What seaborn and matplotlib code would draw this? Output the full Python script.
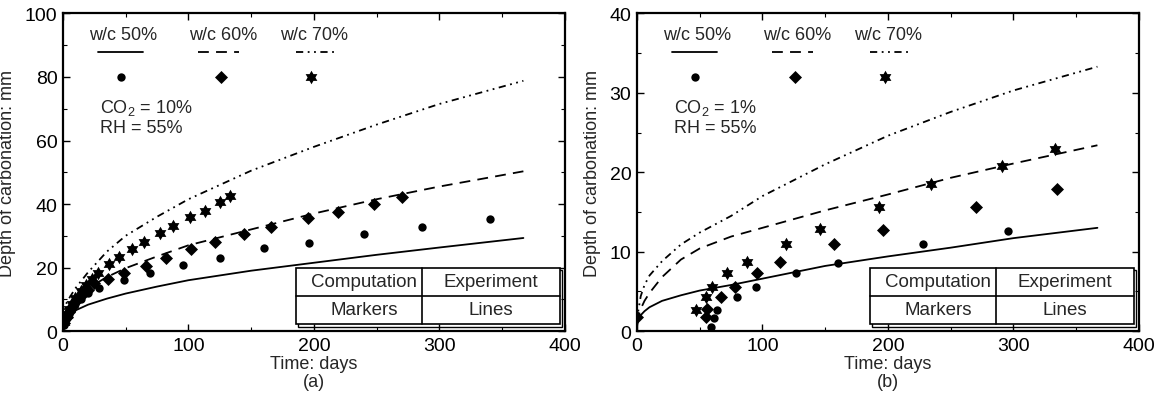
import numpy as np
import seaborn as sns
import matplotlib.pyplot as plt
from matplotlib.ticker import MultipleLocator
from matplotlib.path import Path
from matplotlib.patches import Rectangle
import pandas as pd

# ---- panel (a): CO2 = 10 %, RH = 55 % ----
a_line_t = [0, 1, 3, 6, 10, 20, 35, 50, 75, 100, 150, 200, 250, 300, 367]
a_line_50 = [1.5, 3.2, 4.5, 5.5, 6.5, 8.3, 10.2, 11.8, 14.0, 16.0, 19.0, 21.5, 24.0, 26.3, 29.3]
a_line_60 = [2.0, 4.0, 6.0, 8.0, 10.0, 13.5, 17.0, 19.8, 23.5, 27.0, 32.0, 37.0, 41.5, 45.5, 50.3]
a_line_70 = [3.0, 6.0, 9.0, 11.0, 13.5, 18.5, 25.0, 30.0, 36.0, 41.5, 50.5, 58.0, 65.0, 71.5, 78.8]

a_t_50 = [1, 2, 3, 5, 7, 10, 14, 20, 29, 49, 69, 96, 125, 160, 196, 240, 286, 340]
a_v_50 = [2.0, 3.0, 4.0, 5.5, 7.0, 8.5, 10.0, 12.0, 13.6, 16.2, 18.2, 20.9, 23.0, 26.0, 27.8, 30.6, 32.7, 35.3]
a_t_60 = [1, 3, 5, 7, 10, 14, 20, 25, 36, 49, 66, 82, 102, 121, 144, 166, 195, 219, 248, 270]
a_v_60 = [2.5, 4.5, 6.0, 7.5, 9.0, 11.0, 13.0, 15.0, 16.5, 18.2, 20.6, 23.0, 25.8, 28.0, 30.6, 32.7, 35.5, 37.6, 40.0, 42.2]
a_t_70 = [1, 3, 5, 7, 10, 14, 18, 23, 28, 37, 45, 55, 65, 77, 88, 101, 113, 125, 133]
a_v_70 = [3.0, 5.0, 7.0, 8.5, 10.5, 12.5, 14.5, 16.5, 18.2, 21.1, 23.2, 25.8, 28.0, 30.9, 33.0, 35.8, 37.8, 40.5, 42.5]

# ---- panel (b): CO2 = 1 %, RH = 55 % ----
b_line_t = [0, 1, 3, 6, 10, 20, 35, 50, 75, 100, 150, 200, 250, 300, 367]
b_line_50 = [0.6, 1.3, 2.0, 2.5, 3.0, 3.8, 4.5, 5.1, 5.8, 6.6, 8.2, 9.4, 10.5, 11.7, 13.0]
b_line_60 = [1.0, 1.8, 2.8, 3.8, 4.8, 6.8, 9.0, 10.4, 11.9, 13.0, 15.2, 17.2, 19.3, 21.1, 23.4]
b_line_70 = [1.0, 2.5, 4.4, 5.8, 7.0, 8.8, 10.9, 12.4, 14.5, 17.0, 21.0, 24.6, 27.6, 30.3, 33.3]

b_t_50 = [59, 61, 64, 80, 95, 127, 160, 228, 296]
b_v_50 = [0.5, 1.6, 2.7, 4.3, 5.6, 7.3, 8.6, 10.9, 12.6]
b_t_60 = [0, 55, 56, 67, 78, 96, 114, 157, 196, 270, 335]
b_v_60 = [1.8, 1.8, 2.8, 4.3, 5.6, 7.3, 8.7, 10.9, 12.7, 15.6, 17.9]
b_t_70 = [47, 55, 60, 72, 88, 119, 146, 193, 234, 291, 333]
b_v_70 = [2.7, 4.3, 5.6, 7.3, 8.7, 11.0, 12.8, 15.6, 18.5, 20.8, 22.9]

series_names = ["w/c 50%", "w/c 60%", "w/c 70%"]
table_text = [["Computation", "Experiment"], ["Markers", "Lines"]]

sns.set_theme(style="ticks")
plt.rcParams['font.family'] = ['Liberation Sans', 'DejaVu Sans']
plt.rcParams['mathtext.fontset'] = 'custom'
plt.rcParams['mathtext.rm'] = 'Liberation Sans'
plt.rcParams['mathtext.it'] = 'Liberation Sans'

FS = 13

# six-pointed star (two overlapping triangles)
ang = np.deg2rad(90 + 30 * np.arange(12))
rad = np.where(np.arange(12) % 2 == 0, 1.0, 1 / np.sqrt(3))
star_verts = np.column_stack([rad * np.cos(ang), rad * np.sin(ang)])
star_verts = np.vstack([star_verts, star_verts[:1]])
hexagram = Path(star_verts, closed=True)

line_styles = ["-", (0, (6, 4)), (0, (4, 2.5, 1, 2.5, 1, 2.5))]
markers = ["o", "D", hexagram]
msizes = [36, 44, 95]


def draw_panel(ax, line_t, lines, pts, ymax, ystep, co2, tag):
    for v, ls in zip(lines, line_styles):
        df = pd.DataFrame({"t": line_t, "v": v})
        sns.lineplot(data=df, x="t", y="v", ax=ax, color="black", lw=1.3,
                     linestyle=ls, sort=False, estimator=None)
    for (t, v), mk, s in zip(pts, markers, msizes):
        df = pd.DataFrame({"t": t, "v": v})
        sns.scatterplot(data=df, x="t", y="v", ax=ax, color="black", marker=mk,
                        s=s, linewidth=0, zorder=3)

    ax.set_xlim(0, 400)
    ax.set_ylim(0, ymax)
    ax.xaxis.set_major_locator(MultipleLocator(100))
    ax.xaxis.set_minor_locator(MultipleLocator(50))
    ax.yaxis.set_major_locator(MultipleLocator(ystep))
    ax.yaxis.set_minor_locator(MultipleLocator(ystep / 2))
    ax.tick_params(which="both", direction="in", top=True, right=True,
                   labelsize=FS + 1, pad=4, colors="black")
    ax.tick_params(which="major", length=5, width=1)
    ax.tick_params(which="minor", length=3, width=0.8)
    for sp in ax.spines.values():
        sp.set_linewidth(1.6)
        sp.set_color("black")
    ax.set_xlabel("Time: days\n" + tag, fontsize=FS, linespacing=1.05, labelpad=1)
    ax.set_ylabel("Depth of carbonation: mm", fontsize=FS, labelpad=6)

    # key drawn inside the axes
    tx = [0.12, 0.32, 0.50]
    seg = [(0.07, 0.16), (0.27, 0.35), (0.465, 0.545)]
    for name, x, (x0, x1), ls, mk, s in zip(series_names, tx, seg, line_styles, markers, msizes):
        ax.text(x, 0.935, name, transform=ax.transAxes, ha="center", va="center", fontsize=FS)
        ax.plot([x0, x1], [0.878, 0.878], transform=ax.transAxes, color="black",
                lw=1.3, linestyle=ls)
        ax.scatter([x - 0.005], [0.80], transform=ax.transAxes, color="black",
                   marker=mk, s=s, linewidth=0)
    ax.text(0.073, 0.675, "CO$_2$ = " + co2 + "\nRH = 55%", transform=ax.transAxes,
            ha="left", va="center", fontsize=FS, linespacing=1.2)

    # small two-by-two table in the lower right
    x0, x1, xm = 0.465, 0.99, 0.715
    y0, y1, ym = 0.022, 0.20, 0.111
    ax.add_patch(Rectangle((x0 + 0.004, y0 - 0.008), x1 - x0, y1 - y0, transform=ax.transAxes,
                           facecolor="none", edgecolor="black", lw=1.0, zorder=4))
    ax.add_patch(Rectangle((x0, y0), x1 - x0, y1 - y0, transform=ax.transAxes,
                           facecolor="white", edgecolor="black", lw=1.2, zorder=5))
    ax.plot([xm, xm], [y0, y1], transform=ax.transAxes, color="black", lw=1.2, zorder=6)
    ax.plot([x0, x1], [ym, ym], transform=ax.transAxes, color="black", lw=1.2, zorder=6)
    cx = [(x0 + xm) / 2 + 0.01, (xm + x1) / 2]
    cy = [(ym + y1) / 2, (y0 + ym) / 2]
    for i, row in enumerate(table_text):
        for j, txt in enumerate(row):
            ax.text(cx[j], cy[i], txt, transform=ax.transAxes, ha="center", va="center",
                    fontsize=FS + 0.5, zorder=7)


fig = plt.figure(figsize=(11.55, 4.14), dpi=100)
ax_a = fig.add_axes([0.0545, 0.198, 0.4345, 0.767])
ax_b = fig.add_axes([0.5515, 0.198, 0.4345, 0.767])

draw_panel(ax_a, a_line_t, [a_line_50, a_line_60, a_line_70],
           [(a_t_50, a_v_50), (a_t_60, a_v_60), (a_t_70, a_v_70)], 100, 20, "10%", "(a)")
draw_panel(ax_b, b_line_t, [b_line_50, b_line_60, b_line_70],
           [(b_t_50, b_v_50), (b_t_60, b_v_60), (b_t_70, b_v_70)], 40, 10, "1%", "(b)")

fig.savefig("out.png", dpi=100)
